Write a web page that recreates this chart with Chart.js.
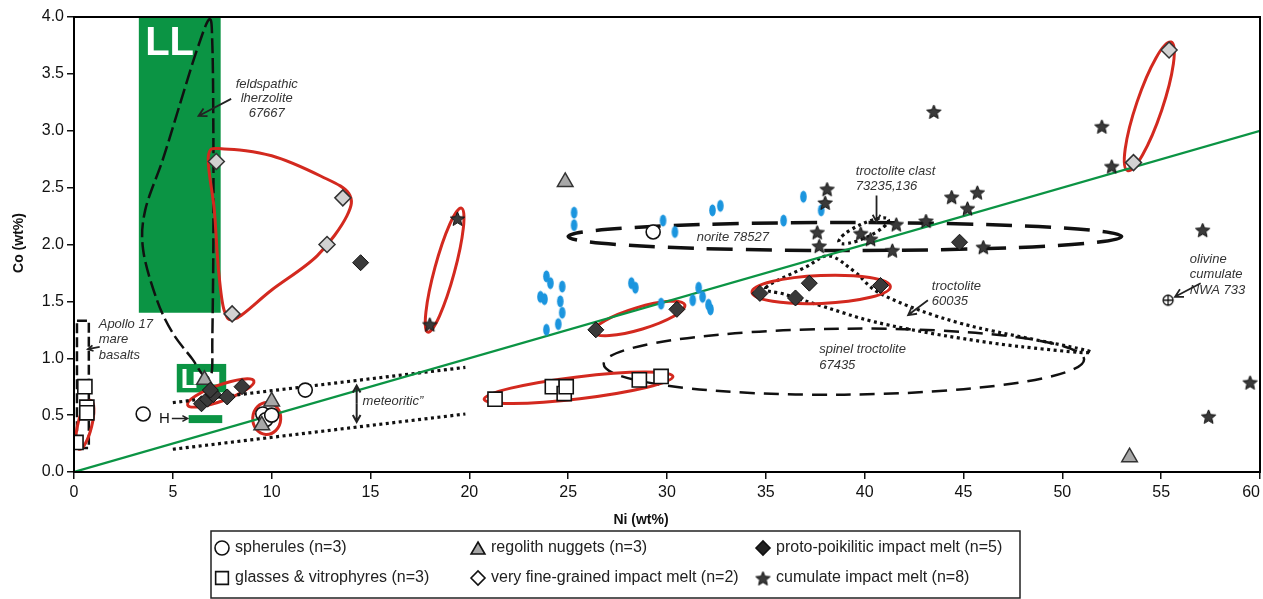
<!DOCTYPE html>
<html>
<head>
<meta charset="utf-8">
<script src="https://cdn.jsdelivr.net/npm/chart.js@4.4.0/dist/chart.umd.min.js"></script>
<style>
  html, body { margin: 0; padding: 0; background: #fff; }
</style>
</head>
<body>
<canvas id="chart" width="1263" height="599"></canvas>
<script>
// ---- data: [Ni wt%, Co wt%] ----
const spherules = [[3.5, 0.51], [11.7, 0.72], [9.55, 0.51], [9.7, 0.46], [10.0, 0.5], [29.3, 2.11]];
const regolithNuggets = [[24.85, 2.55], [6.6, 0.81], [10.0, 0.62], [9.5, 0.41], [53.4, 0.13]];
const glasses = [[0.1, 0.26], [0.55, 0.75], [0.65, 0.57], [0.65, 0.52], [21.3, 0.64],
  [24.2, 0.75], [24.8, 0.69], [24.9, 0.75], [28.6, 0.81], [29.7, 0.84]];
const fineGrained = [[7.2, 2.73], [13.6, 2.41], [12.8, 2.0], [8.0, 1.39], [55.4, 3.71], [53.6, 2.72]];
const protoPoikilitic = [[6.45, 0.6], [6.75, 0.64], [7.05, 0.68], [6.9, 0.72], [7.75, 0.66], [8.5, 0.75],
  [14.5, 1.84], [26.4, 1.25], [30.5, 1.43], [34.7, 1.57], [36.5, 1.53], [37.2, 1.66], [40.8, 1.64], [44.8, 2.02]];
const cumulate = [[18.0, 1.3], [19.4, 2.23], [38.1, 2.49], [38.0, 2.37], [37.6, 2.11], [37.7, 1.99],
  [39.8, 2.1], [40.3, 2.05], [41.6, 2.18], [41.4, 1.95], [43.1, 2.21], [44.4, 2.42], [45.7, 2.46],
  [45.2, 2.32], [46.0, 1.98], [43.5, 3.17], [52.0, 3.04], [52.5, 2.69], [57.1, 2.13], [59.5, 0.79], [57.4, 0.49]];
const ureilites = [[25.3, 2.28], [25.3, 2.17], [23.9, 1.72], [24.1, 1.66], [24.7, 1.63], [23.6, 1.54],
  [23.8, 1.52], [24.6, 1.5], [24.7, 1.4], [24.5, 1.3], [23.9, 1.25], [28.2, 1.66], [28.4, 1.62],
  [29.8, 2.21], [30.4, 2.11], [32.3, 2.3], [32.7, 2.34], [36.9, 2.42], [35.9, 2.21], [37.8, 2.3],
  [29.7, 1.48], [31.3, 1.51], [31.6, 1.62], [31.8, 1.54], [32.1, 1.47], [32.2, 1.43]];
const olivineCumulate = [[55.35, 1.51]];

// reference lines
const chondriteLineNi = [0, 60];
const chondriteLineCo = [0, 3.0];
const meteoriticUpper = [[5, 0.61], [19.8, 0.92]];
const meteoriticLower = [[5, 0.2], [19.8, 0.51]];

// chondrite fields [Ni min, Ni max, Co min, Co max]
const fieldLL = [3.28, 7.42, 1.4, 4.0];
const fieldL = [5.2, 7.7, 0.7, 0.95];
const fieldH = [5.8, 7.5, 0.43, 0.5];

// outlines of sample fields
const feldspathicOutline = [[6.85, 3.98], [7.0, 3.75], [7.05, 3.0], [7.05, 2.0], [7.0, 1.2], [6.95, 0.86],
  [6.5, 0.86], [6.0, 0.99], [5.0, 1.22], [4.2, 1.51], [3.5, 1.95], [3.6, 2.3], [4.5, 2.75], [5.3, 3.2], [6.2, 3.7]];
const troctoliteOutline = [[35.0, 1.62], [37.0, 1.8], [38.2, 1.9], [39.5, 1.76], [41.0, 1.55], [45.0, 1.3],
  [51.4, 1.06], [48.0, 1.1], [44.0, 1.2], [40.5, 1.32], [38.0, 1.45], [36.0, 1.56]];
const fineGrainedLoop = [[6.8, 2.78], [7.6, 2.84], [10.0, 2.78], [12.5, 2.6], [13.9, 2.45], [13.8, 2.25],
  [12.3, 1.9], [10.0, 1.6], [8.2, 1.35], [7.6, 1.42], [7.3, 1.8], [7.1, 2.3]];
// ellipses: two ends [Ni, Co] and half thickness (px)
const redEllipses = [
  [[0.25, 0.2], [0.85, 0.63], 7],
  [[5.75, 0.59], [9.1, 0.8], 8],
  [[9.7, 0.33], [9.8, 0.61], 14],
  [[17.9, 1.23], [19.6, 2.32], 10],
  [[20.75, 0.64], [30.3, 0.84], 11],
  [[26.3, 1.23], [30.9, 1.47], 11],
  [[34.3, 1.58], [41.3, 1.63], 14],
  [[53.3, 2.65], [55.5, 3.78], 13]
];
const noriteEnds = [[25.0, 2.07], [53.0, 2.07]];
const spinelEnds = [[26.8, 0.95], [51.1, 0.99]];
const clastEnds = [[38.7, 2.02], [41.2, 2.22]];
const apolloBox = [0.15, 0.75, 0.21, 1.33];

const GREEN = '#0b9444';
const RED = '#d3291f';
const FONT = "'Liberation Sans', Arial, sans-serif";

const toPts = arr => arr.map(([x, y]) => ({ x, y }));

function makeStar(r) {
  const c = document.createElement('canvas');
  const s = Math.ceil(r * 2 + 4);
  c.width = c.height = s;
  const g = c.getContext('2d');
  g.translate(s / 2, s / 2 + 1);
  g.beginPath();
  for (let i = 0; i < 10; i++) {
    const rr = i % 2 ? r * 0.45 : r;
    const a = -Math.PI / 2 + i * Math.PI / 5;
    g.lineTo(rr * Math.cos(a), rr * Math.sin(a));
  }
  g.closePath();
  g.fillStyle = '#3a3a3a';
  g.fill();
  g.lineWidth = 1;
  g.strokeStyle = '#111';
  g.stroke();
  return c;
}

function makeOval() {
  const c = document.createElement('canvas');
  c.width = 9; c.height = 15;
  const g = c.getContext('2d');
  g.beginPath();
  g.ellipse(4.5, 7.5, 3.3, 6, 0, 0, Math.PI * 2);
  g.fillStyle = '#1b95de';
  g.fill();
  return c;
}

function makeCrossCircle() {
  const c = document.createElement('canvas');
  c.width = 14; c.height = 14;
  const g = c.getContext('2d');
  g.beginPath();
  g.arc(7, 7, 5, 0, Math.PI * 2);
  g.fillStyle = '#fff';
  g.fill();
  g.moveTo(2, 7); g.lineTo(12, 7);
  g.moveTo(7, 2); g.lineTo(7, 12);
  g.lineWidth = 1.3;
  g.strokeStyle = '#111';
  g.stroke();
  return c;
}

const starImg = makeStar(7.5);
const ovalImg = makeOval();
const crossImg = makeCrossCircle();

function markers(label, pts, style, radius, fill, border, width) {
  return {
    type: 'scatter', label, data: toPts(pts), pointStyle: style,
    pointRadius: radius, pointHoverRadius: radius,
    backgroundColor: fill, borderColor: border, borderWidth: width, order: 1
  };
}

function line(label, pts, color, width, dash) {
  return {
    type: 'line', label, data: toPts(pts), borderColor: color, borderWidth: width,
    borderDash: dash, pointRadius: 0, fill: false, order: 5
  };
}

// Catmull-Rom closed curve through pixel points
function smoothClosed(ctx, p) {
  const n = p.length;
  ctx.moveTo(p[0][0], p[0][1]);
  for (let i = 0; i < n; i++) {
    const p0 = p[(i - 1 + n) % n], p1 = p[i], p2 = p[(i + 1) % n], p3 = p[(i + 2) % n];
    ctx.bezierCurveTo(
      p1[0] + (p2[0] - p0[0]) / 6, p1[1] + (p2[1] - p0[1]) / 6,
      p2[0] - (p3[0] - p1[0]) / 6, p2[1] - (p3[1] - p1[1]) / 6,
      p2[0], p2[1]);
  }
  ctx.closePath();
}

function arrow(ctx, x1, y1, x2, y2, head) {
  const a = Math.atan2(y2 - y1, x2 - x1);
  ctx.beginPath();
  ctx.moveTo(x1, y1);
  ctx.lineTo(x2, y2);
  ctx.moveTo(x2 - head * Math.cos(a - 0.5), y2 - head * Math.sin(a - 0.5));
  ctx.lineTo(x2, y2);
  ctx.lineTo(x2 - head * Math.cos(a + 0.5), y2 - head * Math.sin(a + 0.5));
  ctx.stroke();
}

const annotate = {
  id: 'annotate',
  beforeDatasetsDraw(chart) {
    const { ctx, chartArea: area, scales: { x, y } } = chart;
    const px = v => x.getPixelForValue(v);
    const py = v => y.getPixelForValue(v);
    const P = ([a, b]) => [px(a), py(b)];
    ctx.save();
    ctx.beginPath();
    ctx.rect(area.left, area.top, area.right - area.left, area.bottom - area.top);
    ctx.clip();

    // chondrite fields
    ctx.fillStyle = GREEN;
    for (const f of [fieldLL, fieldL, fieldH]) {
      ctx.fillRect(px(f[0]), py(f[3]), px(f[1]) - px(f[0]), py(f[2]) - py(f[3]));
    }
    ctx.fillStyle = '#fff';
    ctx.fillRect(px(6.05), py(0.88), px(7.35) - px(6.05), py(0.77) - py(0.88));
    ctx.font = `bold 40px ${FONT}`;
    ctx.textBaseline = 'alphabetic';
    ctx.fillText('LL', px(3.6), py(3.67));
    ctx.font = `bold 27px ${FONT}`;
    ctx.fillText('L', px(5.4), py(0.74));

    // ellipse helper
    const ell = (a, b, minor) => {
      const [x1, y1] = P(a), [x2, y2] = P(b);
      ctx.beginPath();
      ctx.ellipse((x1 + x2) / 2, (y1 + y2) / 2, Math.hypot(x2 - x1, y2 - y1) / 2, minor,
        Math.atan2(y2 - y1, x2 - x1), 0, Math.PI * 2);
      ctx.stroke();
    };

    // dashed fields
    ctx.strokeStyle = '#111';
    ctx.lineWidth = 2.5;
    ctx.setLineDash([15, 5]);
    ctx.beginPath();
    smoothClosed(ctx, feldspathicOutline.map(P));
    ctx.stroke();

    ctx.setLineDash([10, 4]);
    ctx.strokeRect(px(apolloBox[0]), py(apolloBox[3]), px(apolloBox[1]) - px(apolloBox[0]), py(apolloBox[2]) - py(apolloBox[3]));

    ctx.lineWidth = 3.5;
    ctx.setLineDash([26, 13]);
    ell(noriteEnds[0], noriteEnds[1], 14);

    ctx.lineWidth = 2.5;
    ctx.setLineDash([15, 9]);
    ell(spinelEnds[0], spinelEnds[1], 33);

    // dotted fields
    ctx.lineWidth = 3.2;
    ctx.setLineDash([3, 3.5]);
    ctx.beginPath();
    smoothClosed(ctx, troctoliteOutline.map(P));
    ctx.stroke();
    ell(clastEnds[0], clastEnds[1], 7);

    // red groupings
    ctx.setLineDash([]);
    ctx.strokeStyle = RED;
    ctx.lineWidth = 3;
    for (const [a, b, m] of redEllipses) ell(a, b, m);
    ctx.beginPath();
    smoothClosed(ctx, fineGrainedLoop.map(P));
    ctx.stroke();
    ctx.restore();
  },
  afterDatasetsDraw(chart) {
    const { ctx, chartArea: area, scales: { x, y } } = chart;
    const px = v => x.getPixelForValue(v);
    const py = v => y.getPixelForValue(v);
    ctx.save();
    ctx.fillStyle = '#333';
    ctx.strokeStyle = '#222';
    ctx.lineWidth = 1.8;
    ctx.textBaseline = 'middle';
    ctx.font = `italic 13px ${FONT}`;
    const text = (lines, ni, co, align, step) => {
      ctx.textAlign = align;
      lines.forEach((t, i) => ctx.fillText(t, px(ni), py(co) + i * step));
    };
    text(['feldspathic', 'lherzolite', '67667'], 9.75, 3.41, 'center', 14.5);
    arrow(ctx, px(7.95), py(3.28), px(6.3), py(3.13), 9);
    text(['Apollo 17', 'mare', 'basalts'], 1.25, 1.3, 'left', 15.5);
    arrow(ctx, px(1.3), py(1.1), px(0.7), py(1.08), 6);
    text(['meteoritic\u201d'], 14.6, 0.62, 'left', 0);
    text(['norite 78527'], 31.5, 2.06, 'left', 0);
    text(['troctolite clast', '73235,136'], 39.55, 2.64, 'left', 15);
    arrow(ctx, px(40.6), py(2.43), px(40.6), py(2.2), 8);
    text(['troctolite', '60035'], 43.4, 1.63, 'left', 15);
    arrow(ctx, px(43.2), py(1.51), px(42.2), py(1.38), 9);
    text(['spinel troctolite', '67435'], 37.7, 1.08, 'left', 16);
    text(['olivine', 'cumulate', 'NWA 733'], 56.45, 1.87, 'left', 15.5);
    arrow(ctx, px(57.0), py(1.66), px(55.7), py(1.54), 9);

    // meteoritic double arrow
    const ax = px(14.3);
    ctx.lineWidth = 2;
    arrow(ctx, ax, py(0.6), ax, py(0.76), 8);
    arrow(ctx, ax, py(0.6), ax, py(0.44), 8);

    // H chondrite label
    ctx.fillStyle = '#111';
    ctx.font = `15px ${FONT}`;
    ctx.textAlign = 'left';
    ctx.fillText('H', px(4.3), py(0.47));
    ctx.lineWidth = 1.5;
    arrow(ctx, px(4.95), py(0.47), px(5.75), py(0.47), 6);

    // frame
    ctx.strokeStyle = '#000';
    ctx.lineWidth = 2;
    ctx.strokeRect(area.left, area.top, area.right - area.left, area.bottom - area.top);

    // axis titles
    ctx.fillStyle = '#111';
    ctx.font = `bold 14px ${FONT}`;
    ctx.textAlign = 'center';
    ctx.fillText('Ni (wt%)', 641, 520);
    ctx.translate(19, 243);
    ctx.rotate(-Math.PI / 2);
    ctx.fillText('Co (wt%)', 0, 0);
    ctx.restore();
  },
  afterDraw(chart) {
    const { ctx } = chart;
    const h = Chart.helpers;
    ctx.save();
    ctx.strokeStyle = '#222';
    ctx.lineWidth = 1.5;
    ctx.strokeRect(211, 531, 809, 67);
    const items = [
      ['spherules (n=3)', 'circle', '#fff', 222, 548],
      ['glasses & vitrophyres (n=3)', 'rect', '#fff', 222, 578],
      ['regolith nuggets (n=3)', 'triangle', '#a6a6a6', 478, 548],
      ['very fine-grained impact melt (n=2)', 'rectRot', '#fff', 478, 578],
      ['proto-poikilitic impact melt (n=5)', 'rectRot', '#222', 763, 548],
      ['cumulate impact melt (n=8)', starImg, '#222', 763, 578]
    ];
    ctx.font = `16px 'Liberation Sans Narrow', ${FONT}`;
    ctx.textBaseline = 'middle';
    ctx.textAlign = 'left';
    for (const [label, style, fill, lx, ly] of items) {
      ctx.fillStyle = fill;
      ctx.strokeStyle = '#111';
      ctx.lineWidth = 1.6;
      const r = style === 'rect' ? 9 : style === 'triangle' ? 8 : 7;
      h.drawPoint(ctx, { pointStyle: style, radius: r, borderWidth: 1.6 }, lx, ly + (style === 'triangle' ? 2 : 0));
      ctx.fillStyle = '#222';
      ctx.fillText(label, lx + 13, ly);
    }
    ctx.restore();
  }
};

const tickFont = { family: FONT, size: 16 };

new Chart(document.getElementById('chart'), {
  data: {
    datasets: [
      markers('olivine cumulate', olivineCumulate, crossImg, 7, '#fff', '#111', 1),
      markers('cumulate impact melt', cumulate, starImg, 8, '#333', '#111', 1),
      markers('proto-poikilitic impact melt', protoPoikilitic, 'rectRot', 8, '#3a3a3a', '#111', 1),
      markers('very fine-grained impact melt', fineGrained, 'rectRot', 8, '#d2d2d2', '#333', 1.5),
      markers('regolith nuggets', regolithNuggets, 'triangle', 9, '#a8a8a8', '#333', 1.5),
      markers('spherules', spherules, 'circle', 7, '#fff', '#111', 1.6),
      markers('glasses & vitrophyres', glasses, 'rect', 10, '#fff', '#111', 1.6),
      markers('ureilites', ureilites, ovalImg, 6, '#1b95de', '#1b95de', 0),
      line('chondritic', chondriteLineNi.map((n, i) => [n, chondriteLineCo[i]]), GREEN, 2.2, []),
      line('meteoritic upper', meteoriticUpper, '#111', 3.2, [3, 3.5]),
      line('meteoritic lower', meteoriticLower, '#111', 3.2, [3, 3.5])
    ]
  },
  options: {
    responsive: false,
    animation: false,
    layout: { autoPadding: false, padding: { top: 17, right: 3, left: 0, bottom: 0 } },
    plugins: { legend: { display: false }, tooltip: { enabled: false } },
    scales: {
      x: {
        type: 'linear', min: 0, max: 60,
        ticks: {
          stepSize: 5, font: tickFont, color: '#111', padding: 4, maxRotation: 0,
          // last label sits inside the frame, as in the figure
          callback: v => v === 60 ? '60\u2007\u2007' : String(v)
        },
        grid: { drawOnChartArea: false, drawTicks: true, tickLength: 7, color: '#111', lineWidth: 1.5 },
        border: { display: true, color: '#000', width: 2 },
        afterFit: s => { s.height = 127; s.paddingLeft = 0; s.paddingRight = 0; }
      },
      y: {
        type: 'linear', min: 0, max: 4,
        ticks: { stepSize: 0.5, font: tickFont, color: '#111', padding: 3, callback: v => v.toFixed(1) },
        grid: { drawOnChartArea: false, drawTicks: true, tickLength: 7, color: '#111', lineWidth: 1.5 },
        border: { display: true, color: '#000', width: 2 },
        afterFit: s => { s.width = 74; s.paddingTop = 0; s.paddingBottom = 0; }
      }
    }
  },
  plugins: [annotate]
});
</script>
</body>
</html>
